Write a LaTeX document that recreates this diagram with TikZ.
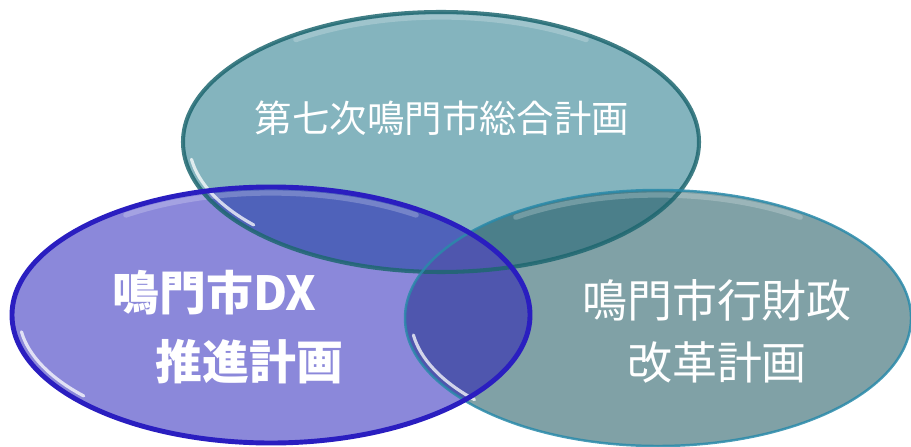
\documentclass[tikz,border=0pt]{standalone}
\usepackage{fontspec}
\newfontfamily\cjk{Noto Sans CJK JP}
\usepackage{tikz}
\usetikzlibrary{shapes.geometric,positioning,calc}
\definecolor{TopFill}{HTML}{84B4BE}
\definecolor{TopLine}{HTML}{1E6770}
\definecolor{LeftFill}{HTML}{8B88DA}
\definecolor{LeftLine}{HTML}{2A1EC0}
\definecolor{RightFill}{HTML}{80A1A6}
\definecolor{RightLine}{HTML}{2A8AAA}
\definecolor{TopRight}{HTML}{4B7F8A}
\definecolor{TopLeft}{HTML}{4F62BA}
\definecolor{LeftRight}{HTML}{4F56AE}
\tikzstyle{RING_TOP} = [draw=TopLine, line width=2.3pt, draw opacity=0.85]
\tikzstyle{RING_RIGHT} = [draw=RightLine, line width=1.4pt, draw opacity=0.85]
\tikzstyle{RING_LEFT} = [draw=LeftLine, line width=2.8pt]
\tikzstyle{GLEAM} = [draw=white, line width=1.8pt, draw opacity=0.75, line cap=round]
\tikzstyle{SHEEN} = [draw=white, line width=3pt, draw opacity=0.22, line cap=round]
\tikzstyle{LABEL_THIN} = [text=white, align=center, inner sep=0pt]
\tikzstyle{LABEL_BOLD} = [text=white, align=left, inner sep=0pt]

\begin{document}
\begin{tikzpicture}[x=0.02cm, y=0.02cm]
% Define
\def\topring{(441,304) ellipse [x radius=258, y radius=130]}
\def\leftring{(271,131) ellipse [x radius=259, y radius=128]}
\def\rightring{(658,128) ellipse [x radius=253, y radius=128]}
\useasboundingbox (0,0) rectangle (911,446);
% Fill rings
\fill[TopFill] \topring;
\fill[RightFill] \rightring;
\fill[LeftFill] \leftring;
\begin{scope}
\clip \topring;
\fill[TopRight] \rightring;
\fill[TopLeft] \leftring;
\end{scope}
\begin{scope}
\clip \leftring;
\fill[LeftRight] \rightring;
\end{scope}
% Gleams
\draw[GLEAM] ($(441,304)+(188:252 and 124)$) arc[start angle=188, end angle=222, x radius=252, y radius=124];
\draw[GLEAM] ($(658,128)+(188:247 and 122)$) arc[start angle=188, end angle=222, x radius=247, y radius=122];
\draw[GLEAM] ($(271,131)+(188:252 and 121)$) arc[start angle=188, end angle=222, x radius=252, y radius=121];
\draw[SHEEN] ($(441,304)+(55:253 and 125)$) arc[start angle=55, end angle=125, x radius=253, y radius=125];
\draw[SHEEN] ($(658,128)+(55:248 and 123)$) arc[start angle=55, end angle=125, x radius=248, y radius=123];
\draw[SHEEN] ($(271,131)+(55:253 and 122)$) arc[start angle=55, end angle=125, x radius=253, y radius=122];
% Rims
\draw[RING_TOP] \topring;
\draw[RING_RIGHT] \rightring;
\draw[RING_LEFT] \leftring;
% Place node
\node[LABEL_THIN, font=\cjk\fontsize{21.3}{26}\selectfont] (GENERAL_PLAN) at (442,328) {第七次鳴門市総合計画};
\node[LABEL_THIN, font=\cjk\fontsize{25.6}{35.3}\selectfont] (REFORM_PLAN) at (717,115) {鳴門市行財政\\改革計画};
\node[LABEL_BOLD, font=\cjk\bfseries\fontsize{26.7}{39}\selectfont, anchor=west] (DX_PLAN) at (112,119) {鳴門市DX\\\hspace{0.86cm}推進計画};
\end{tikzpicture}
\end{document}
